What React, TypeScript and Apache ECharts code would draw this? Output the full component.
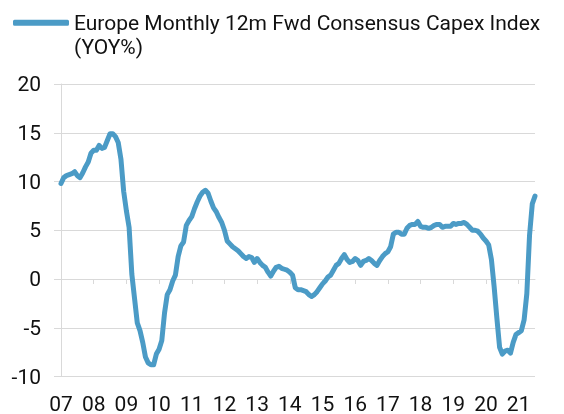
import React, { useEffect, useRef } from "react";
import * as echarts from "echarts";

const seriesName = "Europe Monthly 12m Fwd Consensus Capex Index";
const seriesUnit = "(YOY%)";
const startYear = 2007;

// Monthly values (YOY %)
const v2007 = [9.8, 10.4, 10.6, 10.7, 10.8, 11.0, 10.6, 10.4, 10.9, 11.5, 12.0, 12.9];
const v2008 = [13.2, 13.2, 13.7, 13.4, 13.5, 14.2, 14.9, 14.9, 14.6, 14.0, 12.3, 9.0];
const v2009 = [7.0, 5.3, 0.5, -2.0, -4.5, -5.3, -6.5, -8.0, -8.6, -8.8, -8.8, -7.7];
const v2010 = [-7.2, -6.3, -3.5, -1.6, -1.1, -0.2, 0.4, 2.3, 3.4, 3.8, 5.5, 6.0];
const v2011 = [6.4, 7.2, 7.9, 8.5, 8.9, 9.1, 8.8, 8.0, 7.3, 6.9, 6.3, 5.8];
const v2012 = [5.0, 3.9, 3.6, 3.3, 3.1, 2.9, 2.6, 2.3, 2.1, 2.3, 2.2, 1.7];
const v2013 = [2.1, 1.7, 1.4, 1.2, 0.7, 0.3, 0.8, 1.2, 1.3, 1.1, 1.0, 0.9];
const v2014 = [0.7, 0.4, -0.9, -1.1, -1.1, -1.2, -1.3, -1.6, -1.8, -1.6, -1.3, -0.9];
const v2015 = [-0.5, -0.2, 0.2, 0.4, 0.9, 1.4, 1.6, 2.1, 2.5, 2.0, 1.7, 1.8];
const v2016 = [2.1, 1.9, 1.4, 1.8, 1.9, 2.1, 1.9, 1.6, 1.4, 1.9, 2.3, 2.6];
const v2017 = [2.8, 3.3, 4.6, 4.8, 4.8, 4.6, 4.6, 5.2, 5.5, 5.6, 5.6, 5.9];
const v2018 = [5.4, 5.3, 5.3, 5.2, 5.3, 5.5, 5.6, 5.6, 5.3, 5.4, 5.4, 5.4];
const v2019 = [5.7, 5.6, 5.7, 5.7, 5.8, 5.6, 5.3, 5.0, 5.0, 4.9, 4.6, 4.2];
const v2020 = [3.9, 3.5, 2.0, -0.8, -4.0, -7.0, -7.7, -7.4, -7.3, -7.6, -6.5, -5.7];
const v2021 = [-5.5, -5.3, -4.2, -1.5, 4.5, 7.7, 8.5];

const values = [
  ...v2007, ...v2008, ...v2009, ...v2010, ...v2011, ...v2012, ...v2013, ...v2014,
  ...v2015, ...v2016, ...v2017, ...v2018, ...v2019, ...v2020, ...v2021,
];

const categories = values.map(
  (_, i) => `${startYear + Math.floor(i / 12)}-${String((i % 12) + 1).padStart(2, "0")}`
);

const yMin = -10;
const yMax = 20;
const yInterval = 5;

const FONT = "Roboto";
const FONT_SIZE = 21;
const GRID_COLOR = "#d9d9d9";
const LINE_COLOR = "#4b9bc6";
const TEXT_COLOR = "#111111";

export default function App() {
  const ref = useRef<HTMLDivElement>(null);

  useEffect(() => {
    if (!ref.current) return;
    const chart = echarts.init(ref.current, undefined, { renderer: "svg" });
    const isYearStart = (i: number) => i % 12 === 0;
    chart.setOption({
      animation: false,
      textStyle: { fontFamily: FONT },
      legend: {
        left: 13,
        top: 10.7,
        padding: 0,
        itemWidth: 56,
        itemHeight: 6,
        icon: "roundRect",
        textStyle: {
          fontFamily: FONT,
          fontSize: FONT_SIZE,
          lineHeight: 24,
          color: TEXT_COLOR,
        },
      },
      graphic: [
        {
          type: "text",
          left: 74,
          top: 35,
          silent: true,
          style: {
            text: seriesUnit,
            fontFamily: FONT,
            fontSize: FONT_SIZE,
            lineHeight: 24,
            fill: TEXT_COLOR,
          },
        },
      ],
      grid: { left: 61, right: 29, top: 84, bottom: 37 },
      xAxis: [
        {
          type: "category",
          data: categories,
          boundaryGap: false,
          axisLine: { show: true, onZero: true, lineStyle: { color: GRID_COLOR } },
          axisTick: {
            show: true,
            interval: (i: number) => isYearStart(i),
            length: 5,
            lineStyle: { color: GRID_COLOR },
          },
          axisLabel: { show: false },
          splitLine: { show: false },
        },
        {
          type: "category",
          data: categories,
          boundaryGap: false,
          position: "bottom",
          axisLine: { show: false, onZero: false },
          axisTick: { show: false },
          splitLine: { show: false },
          axisLabel: {
            interval: (i: number) => isYearStart(i),
            formatter: (v: string) => v.slice(2, 4),
            fontFamily: FONT,
            fontSize: FONT_SIZE,
            lineHeight: 20,
            color: TEXT_COLOR,
            margin: 17,
          },
        },
      ],
      yAxis: {
        type: "value",
        min: yMin,
        max: yMax,
        interval: yInterval,
        axisLine: { show: true, lineStyle: { color: GRID_COLOR } },
        axisTick: { show: true, length: 7, lineStyle: { color: GRID_COLOR } },
        splitLine: { show: true, lineStyle: { color: GRID_COLOR } },
        axisLabel: { fontFamily: FONT, fontSize: FONT_SIZE, color: TEXT_COLOR, margin: 20 },
      },
      series: [
        {
          name: seriesName,
          type: "line",
          xAxisIndex: 0,
          data: values,
          showSymbol: false,
          symbol: "none",
          color: LINE_COLOR,
          lineStyle: { width: 5, color: LINE_COLOR, cap: "round", join: "round" },
        },
      ],
    });
    return () => chart.dispose();
  }, []);

  return (
    <div
      ref={ref}
      style={{ position: "fixed", left: 0, top: 0, width: 564, height: 414 }}
    />
  );
}
